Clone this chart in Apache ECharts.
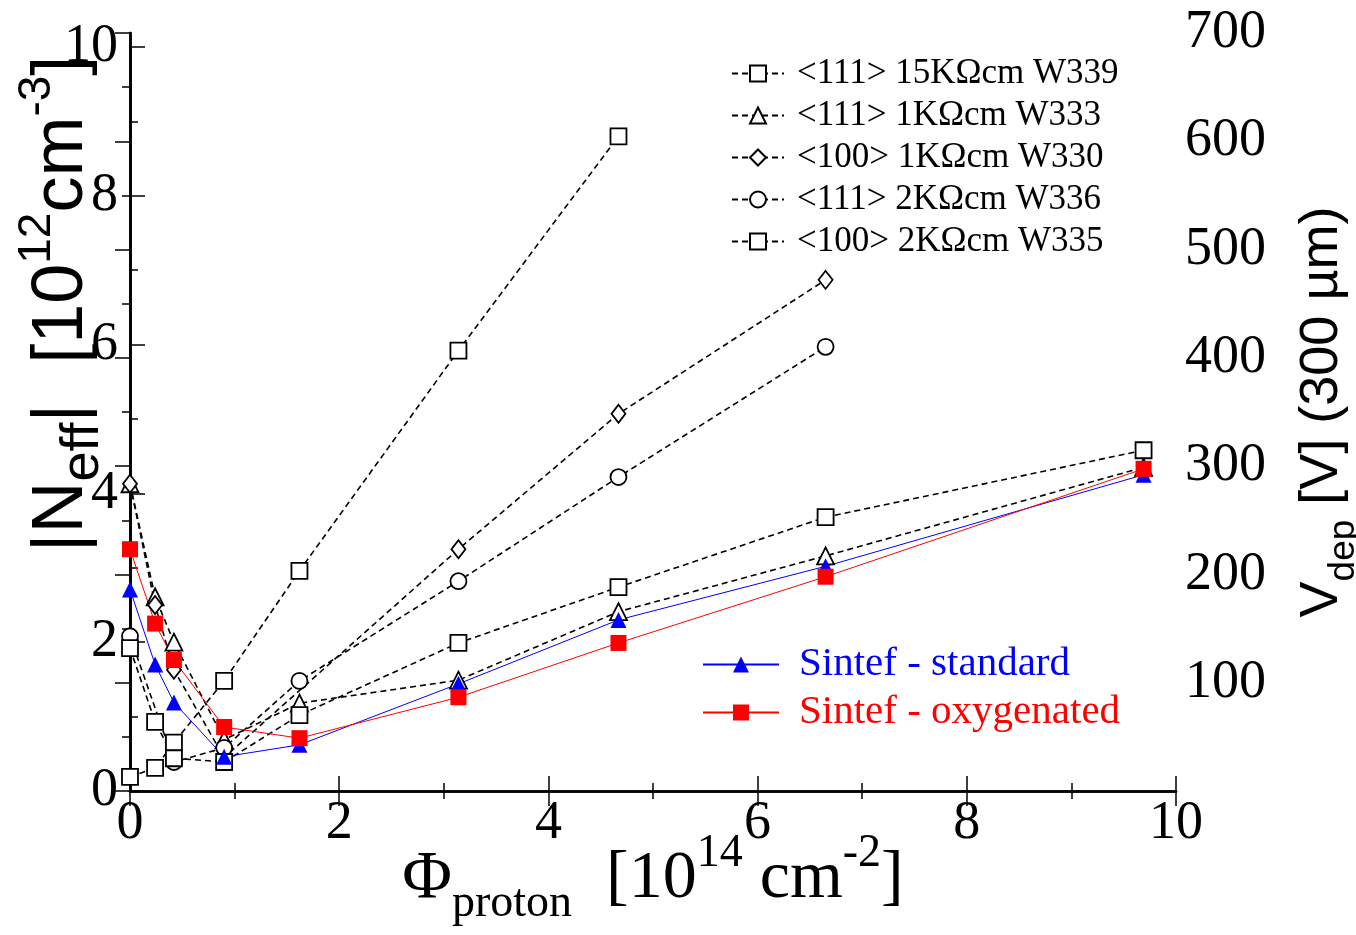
<!DOCTYPE html>
<html>
<head>
<meta charset="utf-8">
<script src="https://cdn.jsdelivr.net/npm/echarts@6/dist/echarts.min.js"></script>
<style>
  html, body { margin: 0; padding: 0; background: #fff; }
  #chart { width: 1356px; height: 935px; }
</style>
</head>
<body>
<div id="chart"></div>
<script>
// fluence values [10^14 cm^-2]
const fluenceAll = [0, 0.24, 0.42, 0.9, 1.62, 3.14, 4.67, 6.65, 9.69];
const fluenceW339 = [0, 0.24, 0.42, 0.9, 1.62, 3.14, 4.67];
const fluenceW330 = [0, 0.24, 0.42, 0.9, 3.14, 4.67, 6.65];
const fluenceW336 = [0, 0.42, 0.9, 1.62, 3.14, 4.67, 6.65];

// |Neff| [10^12 cm^-3]
const neffW339 = [0.19, 0.31, 0.65, 1.48, 2.96, 5.92, 8.80];
const neffW333 = [4.13, 2.61, 2.00, 0.69, 1.18, 1.49, 2.41, 3.16, 4.35];
const neffW330 = [4.13, 2.50, 1.63, 0.45, 3.25, 5.07, 6.87];
const neffW336 = [2.08, 0.39, 0.58, 1.48, 2.82, 4.22, 5.97];
const neffW335 = [1.92, 0.93, 0.44, 0.39, 1.02, 1.99, 2.74, 3.68, 4.58];
const neffStandard = [2.71, 1.70, 1.19, 0.46, 0.62, 1.44, 2.30, 3.02, 4.25];
const neffOxygen = [3.25, 2.25, 1.76, 0.86, 0.71, 1.26, 1.99, 2.88, 4.33];

const zip = (xs, ys) => xs.map((x, i) => [x, ys[i]]);

const serif = 'Liberation Serif';
const sans = 'Liberation Sans';

function openSeries(name, symbol, size, xs, ys) {
  return {
    name: name,
    type: 'line',
    data: zip(xs, ys),
    symbol: symbol,
    symbolSize: size,
    clip: false,
    lineStyle: { color: '#000', width: 1.6, type: [6, 4] },
    itemStyle: { color: '#fff', borderColor: '#000', borderWidth: 1.8 },
    emphasis: { disabled: true },
    animation: false
  };
}

function fullSeries(name, symbol, color, ys) {
  return {
    name: name,
    type: 'line',
    data: zip(fluenceAll, ys),
    symbol: symbol,
    symbolSize: 16,
    clip: false,
    lineStyle: { color: color, width: 1 },
    itemStyle: { color: color, borderWidth: 0 },
    emphasis: { disabled: true },
    animation: false
  };
}

const chart = echarts.init(document.getElementById('chart'));

const axisLine = { show: true, lineStyle: { color: '#000', width: 2.5 } };
const tickStyle = { color: '#000', width: 1.5 };

const option = {
  backgroundColor: '#fff',
  animation: false,
  grid: [
    { left: 130, right: 180, top: 47, bottom: 144, outerBoundsMode: 'none', containLabel: false },
    { left: 130, right: 180, top: 33, bottom: 144, outerBoundsMode: 'none', containLabel: false }
  ],
  legend: [
    {
      left: 726, top: 51, orient: 'vertical',
      itemWidth: 52, itemHeight: 20, itemGap: 7,
      textStyle: { fontFamily: serif, fontSize: 35, color: '#000', lineHeight: 28, padding: [0, 0, 0, 8] },
      data: ['<111> 15KΩcm W339', '<111> 1KΩcm W333', '<100> 1KΩcm W330', '<111> 2KΩcm W336', '<100> 2KΩcm W335']
    },
    {
      left: 697, top: 639, orient: 'vertical',
      itemWidth: 76, itemHeight: 20, itemGap: 7,
      textStyle: { fontFamily: serif, fontSize: 41, lineHeight: 38, padding: [0, 0, 0, 15] },
      data: [
        { name: 'Sintef - standard', textStyle: { color: '#0000ff' } },
        { name: 'Sintef - oxygenated', textStyle: { color: '#ff0000' } }
      ]
    }
  ],
  xAxis: [
    {
      gridIndex: 0, type: 'value', min: 0, max: 10, interval: 2,
      axisLine: axisLine,
      axisTick: { inside: true, length: 15, lineStyle: tickStyle },
      minorTick: { show: true, splitNumber: 2, length: 8, lineStyle: tickStyle },
      splitLine: { show: false },
      axisLabel: { fontFamily: serif, fontSize: 54, color: '#000', margin: 6 },
      name: '{b|Φ}{sub|proton}{b|  [10}{sup|14}{b| cm}{sup|-2}{b|]}',
      nameLocation: 'middle', nameGap: 40, nameMoveOverlap: false,
      nameTextStyle: {
        rich: {
          b: { fontFamily: serif, fontSize: 68, color: '#000', lineHeight: 96 },
          sub: { fontFamily: serif, fontSize: 46, color: '#000', lineHeight: 46, verticalAlign: 'bottom' },
          sup: { fontFamily: serif, fontSize: 46, color: '#000', lineHeight: 46, verticalAlign: 'top' }
        }
      }
    },
    {
      gridIndex: 1, type: 'value', min: 0, max: 10, interval: 2, position: 'top',
      axisLine: axisLine,
      axisTick: { inside: true, length: 15, lineStyle: tickStyle },
      minorTick: { show: true, splitNumber: 2, length: 8, lineStyle: tickStyle },
      splitLine: { show: false },
      axisLabel: { show: false }
    }
  ],
  yAxis: [
    {
      gridIndex: 0, type: 'value', min: 0, max: 10, interval: 2,
      axisLine: axisLine,
      axisTick: { inside: true, length: 15, lineStyle: tickStyle },
      minorTick: { show: true, splitNumber: 2, length: 8, lineStyle: tickStyle },
      splitLine: { show: false },
      axisLabel: { fontFamily: serif, fontSize: 54, color: '#000', margin: 12 },
      name: '{b||N}{sub|eff}{b||  [10}{sup|12}{b|cm}{sup|-3}{b|]}',
      nameLocation: 'middle', nameRotate: 90, nameGap: 20, nameMoveOverlap: false,
      nameTextStyle: {
        padding: [0, 0, 0, 230],
        rich: {
          b: { fontFamily: sans, fontSize: 72, color: '#000', lineHeight: 96 },
          sub: { fontFamily: sans, fontSize: 54, color: '#000', lineHeight: 66, verticalAlign: 'bottom' },
          sup: { fontFamily: sans, fontSize: 46, color: '#000', lineHeight: 72, verticalAlign: 'top' }
        }
      }
    },
    {
      gridIndex: 1, type: 'value', min: 0, max: 700, interval: 100, position: 'right',
      axisLine: axisLine,
      axisTick: { inside: true, length: 15, lineStyle: tickStyle },
      minorTick: { show: true, splitNumber: 2, length: 8, lineStyle: tickStyle },
      splitLine: { show: false },
      axisLabel: {
        fontFamily: serif, fontSize: 54, color: '#000', margin: 9,
        formatter: v => (v === 0 ? '' : v)
      },
      name: '{b|V}{sub|dep}{b| [V] (300 µm)}',
      nameLocation: 'middle', nameRotate: 90, nameGap: 106, nameMoveOverlap: false,
      nameTextStyle: {
        rich: {
          b: { fontFamily: sans, fontSize: 54, color: '#000', lineHeight: 80 },
          sub: { fontFamily: sans, fontSize: 37, color: '#000', lineHeight: 37, verticalAlign: 'bottom' }
        }
      }
    },
    {
      gridIndex: 1, type: 'value', min: 0, max: 10, position: 'left',
      axisLine: axisLine,
      axisTick: { show: false }, axisLabel: { show: false }, splitLine: { show: false }
    }
  ],
  series: [
    openSeries('<111> 15KΩcm W339', 'rect', 16, fluenceW339, neffW339),
    openSeries('<111> 1KΩcm W333', 'triangle', 17, fluenceAll, neffW333),
    openSeries('<100> 1KΩcm W330', 'diamond', [14, 18], fluenceW330, neffW330),
    openSeries('<111> 2KΩcm W336', 'circle', 16, fluenceW336, neffW336),
    openSeries('<100> 2KΩcm W335', 'rect', 16, fluenceAll, neffW335),
    fullSeries('Sintef - standard', 'triangle', '#0000ff', neffStandard),
    fullSeries('Sintef - oxygenated', 'rect', '#ff0000', neffOxygen)
  ]
};

chart.setOption(option);
</script>
</body>
</html>
